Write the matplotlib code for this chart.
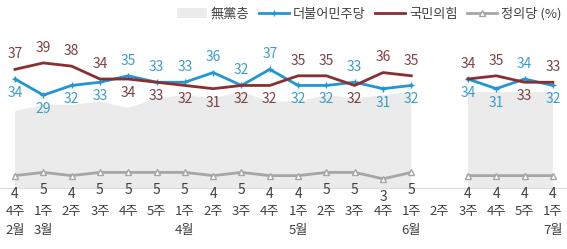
import numpy as np
import matplotlib
matplotlib.use("Agg")
import matplotlib.pyplot as plt

plt.rcParams['font.family'] = ['Noto Sans CJK KR', 'DejaVu Sans']

# 데이터
weeks = ['4주', '1주', '2주', '3주', '4주', '5주', '1주', '2주', '3주', '4주',
         '1주', '2주', '3주', '4주', '1주', '2주', '3주', '4주', '5주', '1주']
months = {0: '2월', 1: '3월', 6: '4월', 10: '5월', 14: '6월', 19: '7월'}
nan = np.nan
dem = [34, 29, 32, 33, 35, 33, 33, 36, 32, 37, 32, 32, 33, 31, 32, nan, 34, 31, 34, 32]
ppp = [37, 39, 38, 34, 34, 33, 32, 31, 32, 32, 35, 35, 32, 36, 35, nan, 34, 35, 33, 33]
jus = [4, 5, 4, 5, 5, 5, 5, 4, 5, 4, 4, 5, 5, 3, 5, nan, 4, 4, 4, 4]
indep = [24, 26, 26, 27, 25, 28, 29, 28, 30, 27, 27, 29, 28, 29, 30, nan, 30, 30, 30, 30]

c_dem, c_ppp, c_jus = '#2196d3', '#8a2f2f', '#a6a6a6'
t_dem, t_ppp, t_jus = '#3e9cc9', '#7a4242', '#404040'

fig = plt.figure(figsize=(5.67, 2.49), dpi=100)
ax = fig.add_axes([0, 0.243, 1, 0.75])
x = np.arange(len(weeks))

ax.fill_between(x, 0, np.array(indep, float), color='#ebebeb', lw=0, label='無黨층')
ax.plot(x, dem, color=c_dem, lw=2, marker='+', ms=4, mew=1, label='더불어민주당')
ax.plot(x, ppp, color=c_ppp, lw=2, label='국민의힘')
ax.plot(x, jus, color=c_jus, lw=2, marker='^', ms=5, mfc='white', mec=c_jus, mew=1,
        label='정의당 (%)')

# 수치 라벨
for i in x:
    b, r = dem[i], ppp[i]
    if np.isnan(b):
        continue
    blue_up = b > r or (b == r and i != 16)
    ax.annotate(f'{b:.0f}', (i, b), xytext=(0, 11 if blue_up else -10), textcoords='offset points',
                ha='center', va='center', fontsize=10, color=t_dem)
    ax.annotate(f'{r:.0f}', (i, r), xytext=(0, -10 if blue_up else 11), textcoords='offset points',
                ha='center', va='center', fontsize=10, color=t_ppp)
    ax.annotate(f'{jus[i]:.0f}', (i, jus[i]), xytext=(0, -13), textcoords='offset points',
                ha='center', va='center', fontsize=10, color=t_jus)

ax.set_xlim(-0.53, 19.5)
ax.set_ylim(0, 58)
ax.set_xticks(x)
ax.set_xticklabels([w + ('\n' + months[i] if i in months else '') for i, w in enumerate(weeks)],
                   fontsize=9.5, color='#404040', linespacing=1.55)
ax.tick_params(axis='x', length=0, pad=12)
ax.set_yticks([])
for s in ['top', 'left', 'right']:
    ax.spines[s].set_visible(False)
ax.spines['bottom'].set_color('#dddddd')

ax.legend(loc='upper right', bbox_to_anchor=(1.012, 1.035), ncol=4, frameon=False, fontsize=9.5,
          handlelength=2.3, columnspacing=0.7, handletextpad=0.3, labelcolor='#404040')

fig.savefig('out.png', dpi=100)
